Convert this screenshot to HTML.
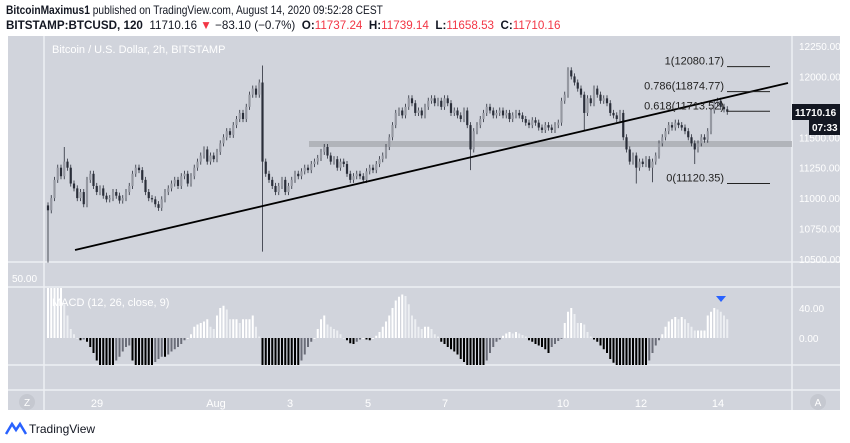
<!DOCTYPE html>
<html><head><meta charset="utf-8">
<style>
body{margin:0;background:#fff;font-family:"Liberation Sans",sans-serif;}
#wrap{position:relative;width:850px;height:443px;overflow:hidden;background:#fff}
.hdr{position:absolute;left:6px;font-size:12px;color:#131722;white-space:nowrap;transform-origin:left top}
</style></head><body>
<div id="wrap">
<div class="hdr" style="top:3px;transform:scaleX(0.85)"><b>BitcoinMaximus1</b> published on TradingView.com, August 14, 2020 09:52:28 CEST</div>
<div class="hdr" style="top:18px;transform:scaleX(0.97)"><b>BITSTAMP:BTCUSD, 120</b>&nbsp; 11710.16 <span style="color:#f23645">▼</span> −83.10 (−0.7%) &nbsp;<b>O:</b><span style="color:#f23645">11737.24</span> &nbsp;<b>H:</b><span style="color:#f23645">11739.14</span> &nbsp;<b>L:</b><span style="color:#f23645">11658.53</span> &nbsp;<b>C:</b><span style="color:#f23645">11710.16</span></div>
<svg id="svg" width="850" height="443" style="position:absolute;left:0;top:0"></svg>
</div>
<script>
const dateLabels=["29","Aug","3","5","7","10","12","14"];
const dateIdx=[15,51,75,99,123,159,183,207];
const priceTicks=[12250,12000,11500,11250,11000,10750,10500];
const fibLabels=["1(12080.17)","0.786(11874.77)","0.618(11713.52)","0(11120.35)"];
const fibValues=[12080.17,11874.77,11713.52,11120.35];
const closes=[10900,11000,11150,11250,11180,11300,11250,11120,11080,11000,11050,10950,
11150,11200,11100,11050,11080,11020,10990,11000,11050,11020,10980,11000,
11050,11100,11200,11250,11230,11150,11050,11000,10990,10950,10920,10990,
11050,11080,11120,11150,11100,11180,11200,11120,11180,11250,11300,11350,
11400,11300,11350,11320,11380,11450,11500,11550,11520,11600,11650,11700,
11650,11750,11850,11900,11850,11950,11300,11200,11150,11100,11050,11100,
11150,11050,11100,11150,11200,11180,11220,11250,11230,11280,11300,11330,
11380,11420,11350,11300,11320,11250,11300,11280,11200,11150,11180,11200,
11180,11150,11220,11250,11230,11280,11320,11350,11420,11500,11600,11700,
11720,11680,11750,11820,11780,11700,11720,11680,11750,11800,11820,11780,
11800,11750,11820,11780,11700,11720,11680,11650,11720,11600,11400,11550,
11600,11650,11700,11750,11720,11680,11700,11720,11680,11700,11650,11680,
11700,11680,11650,11620,11600,11640,11620,11580,11560,11600,11580,11560,
11600,11620,11800,11850,12050,12000,11950,11900,11850,11700,11820,11780,
11900,11850,11800,11820,11780,11700,11680,11650,11700,11500,11400,11300,
11350,11250,11300,11280,11320,11250,11300,11350,11450,11500,11550,11600,
11580,11620,11600,11580,11550,11500,11450,11400,11450,11500,11480,11550,
11720,11780,11800,11750,11730,11710];
const firstOpen=10940;
const wickIdx=[0,66,66,130,181,186,199,165,5];
const wickVal=[10470,12090,10560,11230,11120,11130,11280,11550,11420];
const macd=[70,70,70,70,70,45,30,12,5,0,-3,-2,
-5,-12,-20,-30,-38,-38,-38,-38,-38,-30,-25,-18,
-12,-10,-30,-38,-38,-38,-38,-38,-38,-32,-28,-25,
-25,-22,-18,-15,-12,-8,-3,0,5,15,18,20,
22,25,15,12,30,40,43,38,25,25,25,20,
25,25,25,30,15,2,-38,-38,-38,-38,-38,-38,
-38,-38,-38,-38,-38,-38,-30,-22,-12,-5,0,12,
25,30,18,15,12,10,5,0,-3,-7,-8,-5,
-2,0,-2,-3,0,3,8,15,22,30,40,50,
55,58,56,45,30,25,15,12,15,15,12,5,
2,-5,-8,-12,-15,-18,-22,-28,-32,-38,-38,-38,
-38,-38,-38,-30,-20,-12,-5,-2,3,6,8,6,
8,6,4,2,-3,-5,-8,-10,-12,-15,-20,-12,
-8,-4,-1,20,35,40,32,20,20,18,8,2,
-2,-5,-10,-15,-20,-28,-33,-38,-38,-38,-38,-38,
-38,-38,-38,-38,-38,-30,-20,-10,-3,5,15,22,
25,28,25,28,25,20,15,10,10,10,10,30,
35,40,38,35,30,25];

const NS="http://www.w3.org/2000/svg";
const svg=document.getElementById('svg');
function mk(tag,attrs,parent){const e=document.createElementNS(NS,tag);for(const k in attrs)e.setAttribute(k,attrs[k]);(parent||svg).appendChild(e);return e;}
const xOf=i=>48+i*3.25;
const yP=p=>46+(12250-p)*0.1217;
const yM=v=>338-v*0.75;

let e=mk('rect',{x:8,y:36,width:832,height:374,fill:'#d1d4dc'});

[[44,36,44,410],[792,36,792,410]].forEach(a=>mk('line',{x1:a[0],y1:a[1],x2:a[2],y2:a[3],stroke:'#eef0f4','stroke-width':1.5}));
[262,287,365,390].forEach(y=>mk('line',{x1:8,y1:y,x2:840,y2:y,stroke:'#eef0f4','stroke-width':1.5}));
e=mk('rect',{x:309,y:141,width:483,height:6,fill:'#a9abb2',opacity:0.8});


e=mk('text',{x:52,y:53,fill:'#fff','font-size':11});e.textContent='Bitcoin / U.S. Dollar, 2h, BITSTAMP';


priceTicks.forEach(p=>{const t=mk('text',{x:799,y:yP(p)+4,fill:'#fff','font-size':10});t.textContent=p.toFixed(2);
});

const g=mk('g',{});
closes.forEach((c,i)=>{
  const o=i===0?firstOpen:closes[i-1];
  let hi=Math.max(o,c)+25,lo=Math.min(o,c)-25;
  wickIdx.forEach((w,k)=>{if(w===i){if(wickVal[k]>Math.max(o,c))hi=wickVal[k];else lo=wickVal[k];}});
  const x=xOf(i);
  const w=mk('line',{x1:x,y1:yP(hi),x2:x,y2:yP(lo),stroke:'#2a2e39','stroke-width':0.8},g);
  
  const top=yP(Math.max(o,c)),h=Math.max(1,yP(Math.min(o,c))-top);
  const b=mk('rect',{x:x-1.1,y:top,width:2.2,height:h,fill:c>=o?'#9598a1':'#2a2e39'},g);
  
});

e=mk('line',{x1:75,y1:250,x2:788,y2:83,stroke:'#000','stroke-width':1.8});


fibValues.forEach((v,k)=>{const y=yP(v);
  const l=mk('line',{x1:727,y1:y,x2:770,y2:y,stroke:'#222','stroke-width':1});
  
  const t=mk('text',{x:724,y:y-2,'text-anchor':'end',fill:'#222','font-size':11});t.textContent=fibLabels[k];
  });

e=mk('rect',{x:792,y:104,width:48,height:16,fill:'#131722'});
e=mk('text',{x:795,y:116,fill:'#fff','font-size':10,'font-weight':'bold'});e.textContent='11710.16';
e=mk('rect',{x:809,y:120,width:31,height:15,fill:'#131722'});
e=mk('text',{x:812,y:131,fill:'#fff','font-size':10,'font-weight':'bold'});e.textContent='07:33';

const cl=mk('clipPath',{id:'mc'});mk('rect',{x:8,y:288,width:784,height:77},cl);
const mg=mk('g',{'clip-path':'url(#mc)'});
macd.forEach((v,i)=>{const prev=i?macd[i-1]:v;let col;
  if(v>=0)col=v>=prev?'#ffffff':'#eceef2';else col=v<=prev?'#000000':'#6a6d78';
  const y0=yM(0),y1=yM(v);
  const r=mk('rect',{x:xOf(i)-1,y:Math.min(y0,y1),width:2,height:Math.max(0.8,Math.abs(y1-y0)),fill:col},mg);
  });
e=mk('text',{x:52,y:306,fill:'#fff','font-size':11});e.textContent='MACD (12, 26, close, 9)';
e=mk('text',{x:12,y:282,fill:'#fff','font-size':10});e.textContent='50.00';
[[40,'40.00'],[0,'0.00']].forEach(a=>{const t=mk('text',{x:799,y:yM(a[0])+4,fill:'#fff','font-size':10});t.textContent=a[1];});
e=mk('path',{d:'M716,296 L726,296 L721,302 Z',fill:'#2962ff'});

const tickX=[97,216,290,368,445,563,641,718];
dateLabels.forEach((d,k)=>{const t=mk('text',{x:tickX[k],y:407,'text-anchor':'middle',fill:'#fff','font-size':11});
  t.textContent=d;
  });
[[27,'Z','zoom-button'],[818,'A','auto-scale-button']].forEach(a=>{
  const c=mk('circle',{cx:a[0],cy:402,r:8,fill:'#c5c8d0'});
  const t=mk('text',{x:a[0],y:406,'text-anchor':'middle',fill:'#fff','font-size':10});t.textContent=a[1];});

e=mk('path',{d:'M6,434 L12,424 L16,430 L20,424 L26,434',fill:'none',stroke:'#2962ff','stroke-width':2.5});
e=mk('text',{x:29,y:433,fill:'#131722','font-size':12});e.textContent='TradingView';
</script>
</body></html>
